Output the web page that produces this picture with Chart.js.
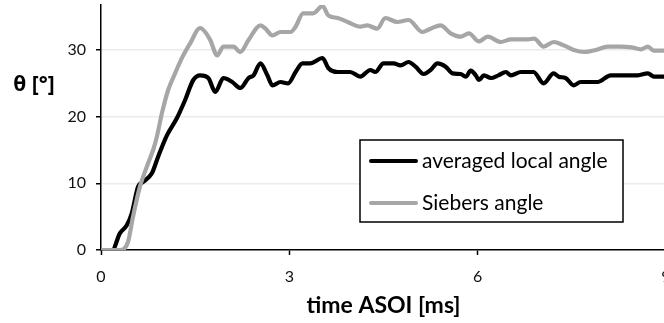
<!DOCTYPE html>
<html>
<head>
<meta charset="utf-8">
<script src="https://cdn.jsdelivr.net/npm/chart.js@4.4.1/dist/chart.umd.min.js"></script>
<style>
  html, body { margin: 0; padding: 0; background: #fff; overflow: hidden; }
  #wrap { position: absolute; left: 0; top: 0; width: 690px; height: 323px; }
</style>
</head>
<body>
<div id="wrap"><canvas id="chart" width="690" height="323"></canvas></div>
<script>
// time ASOI [ms] and angle [deg]
let timeLocal = [0, 0.18, 0.30, 0.41, 0.49, 0.59, 0.67, 0.81, 0.91, 1.05, 1.21, 1.34, 1.47, 1.58, 1.71, 1.82, 1.95, 2.09, 2.22, 2.35, 2.43, 2.54, 2.65, 2.73, 2.86, 2.98, 3.10, 3.21, 3.33, 3.53, 3.62, 3.77, 3.97, 4.13, 4.29, 4.37, 4.50, 4.66, 4.77, 4.90, 5.01, 5.14, 5.25, 5.36, 5.49, 5.60, 5.73, 5.81, 5.89, 5.97, 6.02, 6.10, 6.21, 6.33, 6.45, 6.53, 6.69, 6.89, 7.05, 7.21, 7.29, 7.40, 7.53, 7.64, 7.77, 7.91, 8.12, 8.39, 8.55, 8.71, 8.81, 8.97, 9.1];
let angleLocal = [0, 0, 2.5, 3.7, 5.5, 9.5, 10.2, 11.5, 14, 17.2, 19.8, 22.5, 25.5, 26.2, 25.8, 23.7, 25.8, 25.2, 24.3, 25.8, 26.2, 28, 26.2, 24.7, 25.2, 25, 26.7, 28, 28, 28.8, 27.3, 26.7, 26.7, 26, 27, 26.7, 28, 28, 27.7, 28.2, 27.5, 26.4, 27, 28, 27.5, 26.5, 26.4, 26, 26.9, 26.2, 25.5, 26.2, 25.8, 26.2, 26.7, 26.2, 26.7, 26.7, 25, 26.5, 26, 25.8, 24.7, 25.2, 25.2, 25.2, 26.2, 26.2, 26.2, 26.5, 26, 26, 26];

let timeSiebers = [0, 0.30, 0.43, 0.51, 0.62, 0.73, 0.83, 0.89, 0.97, 1.07, 1.18, 1.30, 1.42, 1.58, 1.66, 1.74, 1.85, 1.95, 2.11, 2.22, 2.35, 2.54, 2.62, 2.73, 2.86, 3.02, 3.10, 3.22, 3.38, 3.53, 3.62, 3.77, 3.93, 4.13, 4.24, 4.40, 4.53, 4.72, 4.90, 5.12, 5.25, 5.41, 5.57, 5.73, 5.86, 6.02, 6.16, 6.37, 6.53, 6.80, 6.90, 7.05, 7.21, 7.37, 7.53, 7.70, 7.88, 8.07, 8.28, 8.45, 8.60, 8.71, 8.81, 8.97, 9.1];
let angleSiebers = [0, 0, 1.2, 5, 9.5, 12.5, 15, 17, 20.5, 24, 26.5, 29, 31, 33.3, 32.7, 31.5, 29.2, 30.5, 30.5, 29.7, 31.5, 33.7, 33.2, 32.2, 32.7, 32.7, 33.5, 35.5, 35.5, 36.6, 35.2, 34.8, 34.2, 33.5, 33.7, 33.2, 34.8, 34.2, 34.5, 32.7, 33.2, 33.7, 32.5, 32, 32.5, 31.3, 32, 31.2, 31.6, 31.6, 31.7, 30.5, 31.2, 30.7, 30, 29.7, 30, 30.5, 30.5, 30.4, 30.1, 30.5, 29.9, 29.9, 30];

let xTicks = [0, 3, 6, 9];
let yTicks = [0, 10, 20, 30];
let seriesNames = ["averaged local angle", "Siebers angle"];
let seriesColors = ["#000000", "#a6a6a6"];

const FONT = "Lato, 'Open Sans', sans-serif";

function toPoints(xs, ys) {
    return xs.map((x, i) => ({ x: x, y: ys[i] }));
}

// legend box + horizontal y title drawn on top
const extras = {
    id: "extras",
    afterDraw(chart) {
        let ctx = chart.ctx;
        ctx.save();
        // y title
        ctx.fillStyle = "#000";
        ctx.font = "bold 21px 'Open Sans', sans-serif";
        ctx.textAlign = "center";
        ctx.textBaseline = "middle";
        ctx.fillText("θ [°]", 34, 85);

        // legend
        let bx = 360, by = 140, bw = 263, bh = 82;
        ctx.fillStyle = "#fff";
        ctx.fillRect(bx, by, bw, bh);
        ctx.strokeStyle = "#000";
        ctx.lineWidth = 1.5;
        ctx.strokeRect(bx, by, bw, bh);
        ctx.font = "21px " + FONT;
        ctx.textAlign = "left";
        let rows = [161, 203];
        seriesNames.forEach((name, i) => {
            ctx.strokeStyle = seriesColors[i];
            ctx.lineWidth = 4;
            ctx.lineCap = "round";
            ctx.beginPath();
            ctx.moveTo(371, rows[i]);
            ctx.lineTo(416, rows[i]);
            ctx.stroke();
            ctx.fillStyle = "#000";
            ctx.fillText(name, 422, rows[i]);
        });
        ctx.restore();
    }
};

let chart = new Chart(document.getElementById("chart").getContext("2d"), {
    type: "line",
    data: {
        datasets: [
            { label: seriesNames[0], data: toPoints(timeLocal, angleLocal), borderColor: seriesColors[0], borderWidth: 4.2, order: 2 },
            { label: seriesNames[1], data: toPoints(timeSiebers, angleSiebers), borderColor: seriesColors[1], borderWidth: 4.2, order: 1 }
        ]
    },
    options: {
        responsive: false,
        animation: false,
        layout: { padding: { top: 5, right: 24, left: 0, bottom: 0 } },
        elements: {
            point: { radius: 0 },
            line: { cubicInterpolationMode: "monotone", fill: false, borderCapStyle: "round", borderJoinStyle: "round" }
        },
        plugins: { legend: { display: false }, tooltip: { enabled: false } },
        scales: {
            x: {
                type: "linear",
                min: 0, max: 9,
                afterBuildTicks: s => { s.ticks = xTicks.map(v => ({ value: v })); },
                afterFit: s => { s.height = 73; },
                border: { color: "#000", width: 1.5 },
                grid: { drawOnChartArea: false, tickLength: 5, tickColor: "#000", tickWidth: 1.5 },
                ticks: { color: "#111", font: { family: FONT, size: 16 }, padding: 12, maxRotation: 0 },
                title: { display: true, text: "time ASOI [ms]", color: "#000", font: { family: FONT, size: 23, weight: "bold" }, padding: { top: 0, bottom: 4 } }
            },
            y: {
                min: 0, max: 36.75,
                afterBuildTicks: s => { s.ticks = yTicks.map(v => ({ value: v })); },
                afterFit: s => { s.width = 101; s.paddingTop = 0; s.paddingBottom = 0; },
                border: { color: "#000", width: 1.5 },
                grid: {
                    color: c => c.tick.value === 0 ? "rgba(0,0,0,0)" : "#ebebeb",
                    lineWidth: 1.5,
                    tickLength: 5, tickColor: "#000", tickWidth: 1.5
                },
                ticks: { color: "#111", font: { family: FONT, size: 16 }, padding: 10 }
            }
        }
    },
    plugins: [extras]
});
</script>
</body>
</html>
